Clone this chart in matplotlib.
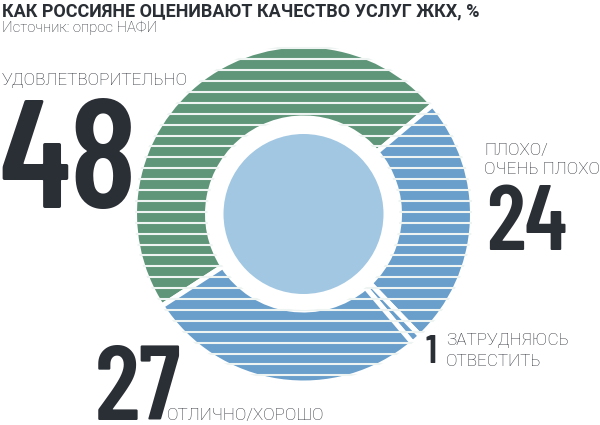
import matplotlib
matplotlib.use("Agg")
import matplotlib.pyplot as plt
import numpy as np
from matplotlib.patches import Circle

# ---- data ----
categories = ["УДОВЛЕТВОРИТЕЛЬНО", "ПЛОХО/\nОЧЕНЬ ПЛОХО", "ЗАТРУДНЯЮСЬ\nОТВЕСТИТЬ", "ОТЛИЧНО/ХОРОШО"]
values = [48, 24, 1, 27]
colors = ["#5f9679", "#6a9fcb", "#6a9fcb", "#6a9fcb"]
title = "КАК РОССИЯНЕ ОЦЕНИВАЮТ КАЧЕСТВО УСЛУГ ЖКХ, %"
subtitle = "Источник: опрос НАФИ"

W, H = 600, 425
fig = plt.figure(figsize=(6, 4.25), dpi=100)
fig.patch.set_facecolor("white")

cx, cy, R = 303.5, 214, 169
ax = fig.add_axes([(cx - R) / W, (H - cy - R) / H, 2 * R / W, 2 * R / H])
ax.set_xlim(-1, 1)
ax.set_ylim(-1, 1)
ax.set_aspect("equal")
ax.axis("off")

inner = 96 / R
wedges, _ = ax.pie(values, colors=colors, startangle=213, counterclock=False,
                   radius=1, wedgeprops=dict(width=1 - inner, edgecolor="white", linewidth=3.6),
                   frame=False)
ax.set_xlim(-1, 1)
ax.set_ylim(-1, 1)

# horizontal stripes
step = 10.9 / R
ys = np.arange(-16, 17) * step + 0.2 * step
for w in wedges:
    lc = ax.hlines(ys, -1.05, 1.05, colors="#eef4f2", linewidth=1.5, zorder=3)
    lc.set_clip_path(w)

ax.add_patch(Circle((0, 0), 80 / R, facecolor="#a2c7e2", edgecolor="none", zorder=4))

def px(x, y):
    return x / W, 1 - y / H

dark = "#2a2e35"
lab = dict(family=["Roboto", "DejaVu Sans"], fontweight="light", color=dark)
num = dict(family=["Barlow Condensed", "Roboto Condensed", "DejaVu Sans"], fontweight="semibold", color=dark)

fig.text(*px(2, 16.5), title, family=["Roboto", "DejaVu Sans"], fontweight="bold",
         fontsize=13, color=dark, va="baseline", ha="left")
fig.text(*px(2, 32), subtitle, fontsize=10.7, va="baseline", ha="left", **lab)

# labels and numbers
fig.text(*px(2, 85), categories[0], fontsize=12.3, va="baseline", ha="left", **lab)
fig.text(*px(-1, 208), str(values[0]), fontsize=111, va="baseline", ha="left", **num)

fig.text(*px(484, 155), categories[1].split("\n")[0], fontsize=12.3, va="baseline", ha="left", **lab)
fig.text(*px(484, 173.5), categories[1].split("\n")[1], fontsize=12.3, va="baseline", ha="left", **lab)
fig.text(*px(486, 250), str(values[1]), fontsize=66, va="baseline", ha="left", **num)

fig.text(*px(426, 363), str(values[2]), fontsize=29, va="baseline", ha="left", **num)
fig.text(*px(446, 345), categories[2].split("\n")[0], fontsize=12.3, va="baseline", ha="left", **lab)
fig.text(*px(446, 366), categories[2].split("\n")[1], fontsize=12.3, va="baseline", ha="left", **lab)

fig.text(*px(95, 420), str(values[3]), fontsize=76, va="baseline", ha="left", **num)
fig.text(*px(167, 420), categories[3], fontsize=12.3, va="baseline", ha="left", **lab)

fig.savefig("out.png", dpi=100, facecolor="white")
